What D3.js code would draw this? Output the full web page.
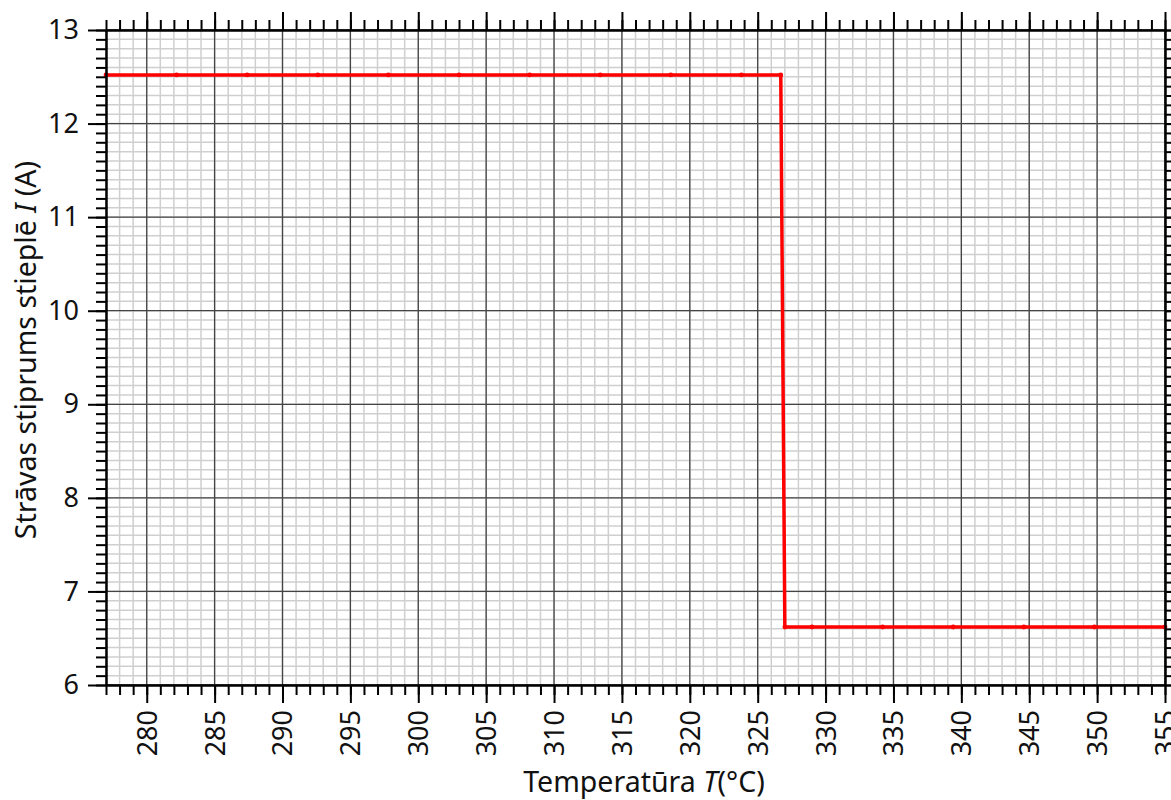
<!DOCTYPE html>
<html>
<head>
<meta charset="utf-8">
<script src="https://cdn.jsdelivr.net/npm/d3@7"></script>
<style>
  body { margin: 0; background: #fff; }
  svg text { font-family: "Noto Sans", "Open Sans", sans-serif; fill: #111; }
</style>
</head>
<body>
<div id="chart"></div>
<script>
// measured points (T in degC, I in A)
var temps = [277, 282.2, 287.4, 292.6, 297.8, 303, 308.2, 313.4, 318.6, 323.8, 326.7,
             327, 329, 334.2, 339.4, 344.6, 349.8, 355];
var current = [12.52, 12.52, 12.52, 12.52, 12.52, 12.52, 12.52, 12.52, 12.52, 12.52, 12.52,
               6.62, 6.62, 6.62, 6.62, 6.62, 6.62, 6.62];

var xTicks = [280, 285, 290, 295, 300, 305, 310, 315, 320, 325, 330, 335, 340, 345, 350, 355];
var yTicks = [6, 7, 8, 9, 10, 11, 12, 13];

var width = 1171,
    height = 800,
    margin = {top: 30, right: 6, bottom: 115, left: 106},
    majorLen = 18,
    minorLen = 10,
    fontSize = "27px",
    titleSize = "28.5px";

var x = d3.scaleLinear().domain([277, 355]).range([margin.left, width - margin.right]);
var y = d3.scaleLinear().domain([6, 13]).range([height - margin.bottom, margin.top]);

var xMinor = d3.range(277, 355.5, 1);
var yMinor = d3.range(60, 131, 1).map(function(d) { return d / 10; });

var svg = d3.select("#chart")
  .append("svg")
  .attr("width", width)
  .attr("height", height);

// grid
var grid = svg.append("g");
grid.selectAll(".vminor").data(xMinor).enter().append("line")
  .attr("x1", x).attr("x2", x)
  .attr("y1", y(6)).attr("y2", y(13))
  .style("stroke", "#cfcfcf").style("stroke-width", 1.5);
grid.selectAll(".hminor").data(yMinor).enter().append("line")
  .attr("y1", y).attr("y2", y)
  .attr("x1", x(277)).attr("x2", x(355))
  .style("stroke", "#cfcfcf").style("stroke-width", 1.5);
grid.selectAll(".vmajor").data(xTicks).enter().append("line")
  .attr("x1", x).attr("x2", x)
  .attr("y1", y(6)).attr("y2", y(13))
  .style("stroke", "#444").style("stroke-width", 1.3);
grid.selectAll(".hmajor").data(yTicks).enter().append("line")
  .attr("y1", y).attr("y2", y)
  .attr("x1", x(277)).attr("x2", x(355))
  .style("stroke", "#444").style("stroke-width", 1.3);

// series
var pts = temps.map(function(t, i) { return [t, current[i]]; });
var line = d3.line().x(function(d) { return x(d[0]); }).y(function(d) { return y(d[1]); });

svg.append("path")
  .datum(pts)
  .attr("d", line)
  .style("fill", "none")
  .style("stroke", "#ff0000")
  .style("stroke-width", 3.5)
  .style("stroke-linejoin", "round");

svg.selectAll(".dot").data(pts).enter().append("circle")
  .attr("cx", function(d) { return x(d[0]); })
  .attr("cy", function(d) { return y(d[1]); })
  .attr("r", 2.4)
  .style("fill", "#ff0000");

// axes, ticks on all four sides
function styleAxis(g) {
  g.selectAll("path.domain").style("stroke", "#000").style("stroke-width", 2);
  g.selectAll(".tick line").style("stroke", "#000").style("stroke-width", 2);
}

var yBottom = y(6), yTop = y(13), xLeft = x(277), xRight = x(355);

svg.append("g").attr("transform", "translate(0," + yBottom + ")")
  .call(d3.axisBottom(x).tickValues(xMinor).tickSize(minorLen).tickSizeOuter(0).tickFormat(""))
  .call(styleAxis);
var xb = svg.append("g").attr("transform", "translate(0," + yBottom + ")")
  .call(d3.axisBottom(x).tickValues(xTicks).tickSize(majorLen).tickSizeOuter(0))
  .call(styleAxis);
xb.selectAll(".tick text")
  .attr("transform", "rotate(-90)")
  .attr("text-anchor", "end")
  .attr("x", -(majorLen + 7))
  .attr("y", 0)
  .attr("dy", "0.35em");

svg.append("g").attr("transform", "translate(0," + yTop + ")")
  .call(d3.axisTop(x).tickValues(xMinor).tickSize(minorLen).tickSizeOuter(0).tickFormat(""))
  .call(styleAxis);
svg.append("g").attr("transform", "translate(0," + yTop + ")")
  .call(d3.axisTop(x).tickValues(xTicks).tickSize(majorLen).tickSizeOuter(0).tickFormat(""))
  .call(styleAxis);

svg.append("g").attr("transform", "translate(" + xLeft + ",0)")
  .call(d3.axisLeft(y).tickValues(yMinor).tickSize(minorLen).tickSizeOuter(0).tickFormat(""))
  .call(styleAxis);
var yl = svg.append("g").attr("transform", "translate(" + xLeft + ",0)")
  .call(d3.axisLeft(y).tickValues(yTicks).tickSize(majorLen).tickSizeOuter(0).tickFormat(d3.format("d")))
  .call(styleAxis);
yl.selectAll(".tick text")
  .attr("x", -(majorLen + 9));

svg.append("g").attr("transform", "translate(" + xRight + ",0)")
  .call(d3.axisRight(y).tickValues(yMinor).tickSize(minorLen).tickSizeOuter(0).tickFormat(""))
  .call(styleAxis);
svg.append("g").attr("transform", "translate(" + xRight + ",0)")
  .call(d3.axisRight(y).tickValues(yTicks).tickSize(majorLen).tickSizeOuter(0).tickFormat(""))
  .call(styleAxis);

svg.selectAll(".tick text")
  .style("fill", "#111")
  .style("font-size", fontSize)
  .style("font-family", "'Noto Sans', sans-serif");

// axis titles
var xt = svg.append("text")
  .attr("x", 644)
  .attr("y", 792)
  .attr("text-anchor", "middle")
  .style("font-size", titleSize);
xt.append("tspan").text("Temperatūra ");
xt.append("tspan").style("font-style", "italic").text("T");
xt.append("tspan").text("(°C)");

var yt = svg.append("text")
  .attr("transform", "translate(36,350) rotate(-90)")
  .attr("text-anchor", "middle")
  .style("font-size", titleSize);
yt.append("tspan").text("Strāvas stiprums stieplē ");
yt.append("tspan").style("font-style", "italic").text("I");
yt.append("tspan").text(" (A)");
</script>
</body>
</html>
